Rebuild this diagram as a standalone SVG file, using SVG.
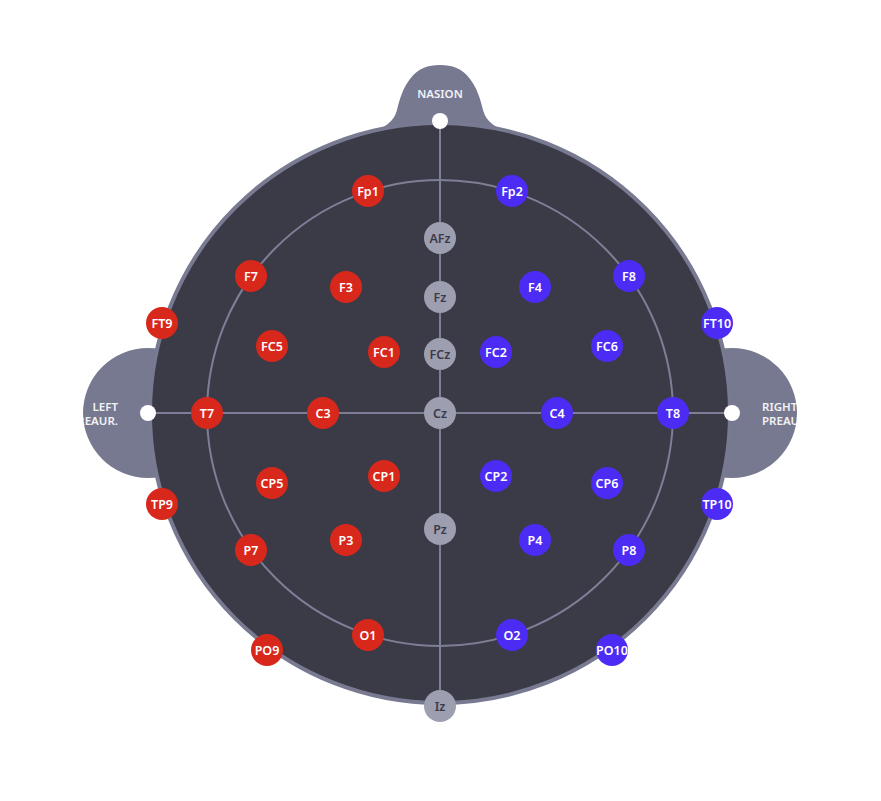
<svg xmlns="http://www.w3.org/2000/svg" width="881" height="801" viewBox="0 0 881 801">
<style>
.part{fill:#767990}
.lbl{font-family:"Noto Sans","Open Sans",sans-serif;font-size:11.5px;font-weight:600;fill:#f2f2f6}
.e circle{stroke:none}
.r circle{fill:#d8281c}
.b circle{fill:#4c2cf4}
.g circle{fill:#9d9eb0}
.e text{font-family:"Noto Sans","Open Sans",sans-serif;font-size:12.5px;font-weight:600;text-anchor:middle;dominant-baseline:central}
.r text,.b text{fill:#ffffff}
.g text{fill:#3b3a47}
.ln{stroke:#7c7f96;stroke-width:2;fill:none}
.dot{fill:#ffffff}
</style>
<defs>
<clipPath id="cl"><circle cx="148" cy="413" r="65"/></clipPath>
<clipPath id="cr"><circle cx="732" cy="413" r="65"/></clipPath>
</defs>
<rect width="881" height="801" fill="#ffffff"/>
<g id="left-ear">
<circle class="part" cx="148" cy="413" r="65"/>
<g clip-path="url(#cl)">
<text class="lbl" x="118" y="411" text-anchor="end">LEFT</text>
<text class="lbl" x="118" y="425" text-anchor="end">PREAUR.</text>
</g>
</g>
<g id="right-ear">
<circle class="part" cx="732" cy="413" r="65"/>
<g clip-path="url(#cr)">
<text class="lbl" x="762" y="411">RIGHT</text>
<text class="lbl" x="762" y="425">PREAUR.</text>
</g>
</g>
<g id="nasion-shape">
<path class="part" d="M382,128 C390,123 395,118 397,110 C400,98 403,88 410,79 C418,68 428,65 440,65 C452,65 462,68 470,79 C477,88 480,98 483,110 C485,118 490,123 498,128 Z"/>
<text class="lbl" x="440" y="98" text-anchor="middle">NASION</text>
</g>
<g id="head">
<circle cx="440" cy="413" r="290" fill="#3b3a47" stroke="#777a91" stroke-width="4"/>
</g>
<g id="connectors">
<circle class="ln" cx="440" cy="413" r="233"/>
<line class="ln" x1="440" y1="121" x2="440" y2="706"/>
<line class="ln" x1="148" y1="413" x2="732" y2="413"/>
</g>
<g id="nasion"><circle class="dot" cx="440" cy="121" r="8"/></g>
<g id="lpa"><circle class="dot" cx="148" cy="413" r="8"/></g>
<g id="rpa"><circle class="dot" cx="732" cy="413" r="8"/></g>
<g id="Fp1" class="e r"><circle cx="368" cy="191" r="16"/><text x="368" y="191">Fp1</text></g>
<g id="Fp2" class="e b"><circle cx="512" cy="191" r="16"/><text x="512" y="191">Fp2</text></g>
<g id="AFz" class="e g"><circle cx="440" cy="238" r="16"/><text x="440" y="238">AFz</text></g>
<g id="F7" class="e r"><circle cx="251" cy="276" r="16"/><text x="251" y="276">F7</text></g>
<g id="F3" class="e r"><circle cx="346" cy="287" r="16"/><text x="346" y="287">F3</text></g>
<g id="Fz" class="e g"><circle cx="440" cy="297" r="16"/><text x="440" y="297">Fz</text></g>
<g id="F4" class="e b"><circle cx="535" cy="287" r="16"/><text x="535" y="287">F4</text></g>
<g id="F8" class="e b"><circle cx="629" cy="276" r="16"/><text x="629" y="276">F8</text></g>
<g id="FT9" class="e r"><circle cx="162" cy="323" r="16"/><text x="162" y="323">FT9</text></g>
<g id="FT10" class="e b"><circle cx="717" cy="323" r="16"/><text x="717" y="323">FT10</text></g>
<g id="FC5" class="e r"><circle cx="272" cy="346" r="16"/><text x="272" y="346">FC5</text></g>
<g id="FC1" class="e r"><circle cx="384" cy="352" r="16"/><text x="384" y="352">FC1</text></g>
<g id="FCz" class="e g"><circle cx="440" cy="354" r="16"/><text x="440" y="354">FCz</text></g>
<g id="FC2" class="e b"><circle cx="496" cy="352" r="16"/><text x="496" y="352">FC2</text></g>
<g id="FC6" class="e b"><circle cx="607" cy="346" r="16"/><text x="607" y="346">FC6</text></g>
<g id="T7" class="e r"><circle cx="207" cy="413" r="16"/><text x="207" y="413">T7</text></g>
<g id="C3" class="e r"><circle cx="323" cy="413" r="16"/><text x="323" y="413">C3</text></g>
<g id="Cz" class="e g"><circle cx="440" cy="413" r="16"/><text x="440" y="413">Cz</text></g>
<g id="C4" class="e b"><circle cx="557" cy="413" r="16"/><text x="557" y="413">C4</text></g>
<g id="T8" class="e b"><circle cx="673" cy="413" r="16"/><text x="673" y="413">T8</text></g>
<g id="CP5" class="e r"><circle cx="272" cy="483" r="16"/><text x="272" y="483">CP5</text></g>
<g id="CP1" class="e r"><circle cx="384" cy="476" r="16"/><text x="384" y="476">CP1</text></g>
<g id="CP2" class="e b"><circle cx="496" cy="476" r="16"/><text x="496" y="476">CP2</text></g>
<g id="CP6" class="e b"><circle cx="607" cy="483" r="16"/><text x="607" y="483">CP6</text></g>
<g id="TP9" class="e r"><circle cx="162" cy="504" r="16"/><text x="162" y="504">TP9</text></g>
<g id="TP10" class="e b"><circle cx="717" cy="504" r="16"/><text x="717" y="504">TP10</text></g>
<g id="P7" class="e r"><circle cx="251" cy="550" r="16"/><text x="251" y="550">P7</text></g>
<g id="P3" class="e r"><circle cx="346" cy="540" r="16"/><text x="346" y="540">P3</text></g>
<g id="Pz" class="e g"><circle cx="440" cy="529" r="16"/><text x="440" y="529">Pz</text></g>
<g id="P4" class="e b"><circle cx="535" cy="540" r="16"/><text x="535" y="540">P4</text></g>
<g id="P8" class="e b"><circle cx="629" cy="550" r="16"/><text x="629" y="550">P8</text></g>
<g id="PO9" class="e r"><circle cx="267" cy="650" r="16"/><text x="267" y="650">PO9</text></g>
<g id="PO10" class="e b"><circle cx="612" cy="650" r="16"/><text x="612" y="650">PO10</text></g>
<g id="O1" class="e r"><circle cx="368" cy="635" r="16"/><text x="368" y="635">O1</text></g>
<g id="O2" class="e b"><circle cx="512" cy="635" r="16"/><text x="512" y="635">O2</text></g>
<g id="Iz" class="e g"><circle cx="440" cy="706" r="16"/><text x="440" y="706">Iz</text></g>
</svg>
